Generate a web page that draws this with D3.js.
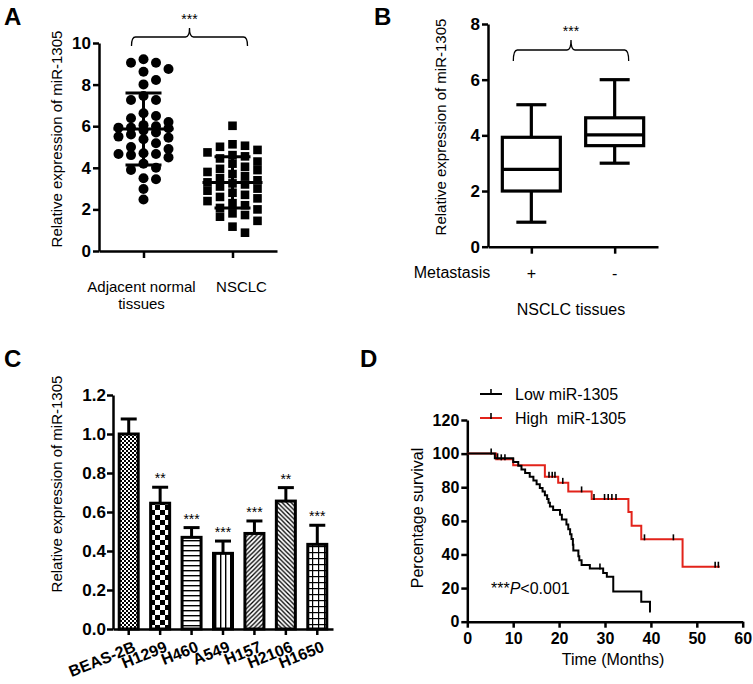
<!DOCTYPE html>
<html>
<head>
<meta charset="utf-8">
<script src="https://cdn.jsdelivr.net/npm/d3@7"></script>
<style>
body { margin: 0; background: #fff; }
text { font-family: Arial, "Liberation Sans", sans-serif; fill: #000; }
</style>
</head>
<body>
<svg id="fig" width="753" height="684"></svg>
<script>
////////////////////////////////////////////////////////////////////////////////
// Data

// A: scatter, miR-1305 in tissues
var groupsA = ["Adjacent normal tissues", "NSCLC"]
var normalVals = [9.22, 9.05, 9.05, 8.75, 8.62, 8.22, 8.01, 7.45, 7.26, 7.26,
                  6.62, 6.49, 6.38, 6.2, 6.05, 6.0, 5.93, 5.93, 5.9, 5.8,
                  5.7, 5.6, 5.5, 5.45, 5.37, 5.18, 5.0, 4.9, 4.7, 4.66,
                  4.66, 4.61, 4.5, 4.2, 4.0, 3.9, 3.5, 3.45, 2.98, 2.48]
var nsclcVals = [6.02, 5.13, 5.06, 5.01, 4.86, 4.74, 4.61, 4.55, 4.45, 4.3,
                 4.2, 4.05, 3.95, 3.89, 3.8, 3.7, 3.6, 3.5, 3.4, 3.3,
                 3.25, 3.2, 3.1, 3.0, 2.9, 2.8, 2.7, 2.6, 2.53, 2.4,
                 2.3, 2.2, 2.07, 2.0, 1.81, 1.73, 1.65, 1.45, 1.17, 0.88]
var yTicksA = [0, 2, 4, 6, 8, 10]

// B: box plot, metastasis + / -
var metaGroups = ["+", "-"]
var boxMin = [0.88, 3.0]
var boxQ1 = [2.0, 3.63]
var boxMedian = [2.78, 4.02]
var boxQ3 = [3.93, 4.63]
var boxMax = [5.1, 6.0]
var yTicksB = [0, 2, 4, 6, 8]

// C: cell lines
var cellLines = ["BEAS-2B", "H1299", "H460", "A549", "H157", "H2106", "H1650"]
var cellMeans = [1.0, 0.645, 0.47, 0.388, 0.49, 0.656, 0.434]
var cellErr = [0.077, 0.082, 0.05, 0.063, 0.064, 0.069, 0.098]
var cellStars = ["", "**", "***", "***", "***", "**", "***"]
var yTicksC = [0, 0.2, 0.4, 0.6, 0.8, 1.0, 1.2]

// D: Kaplan-Meier, [month, percent]
var lowSteps = [[0, 100], [6.0, 97.2], [10.0, 95.0], [11.1, 92.8], [11.8, 90.6],
  [12.6, 88.4], [13.6, 86.2], [14.4, 84.0], [15.1, 81.8], [15.8, 79.6],
  [16.4, 77.4], [16.9, 75.2], [17.4, 73.0], [17.7, 70.8], [18.0, 68.6],
  [18.7, 66.4], [20.2, 63.6], [20.6, 60.8], [21.6, 57.9], [22.0, 55.0],
  [22.4, 52.1], [22.7, 49.2], [23.0, 45.8], [23.1, 42.4], [24.2, 39.0],
  [24.4, 36.5], [24.9, 33.8], [26.7, 31.6], [29.6, 29.0], [30.4, 26.8],
  [31.8, 17.9], [37.9, 11.9], [39.8, 6.0], [40, 6.0]]
var lowCensor = [[5.2, 100], [6.6, 97.2], [28.9, 31.6]]
var highSteps = [[0, 100], [6.3, 96.6], [10.0, 93.1], [16.9, 86.2], [19.8, 82.6],
  [22.0, 77.5], [27.1, 73.0], [35.1, 65.2], [35.8, 57.1], [37.9, 49.0],
  [46.9, 32.7], [55, 32.7]]
var highCensor = [[7.4, 96.6], [8.2, 96.6], [17.8, 86.2], [18.5, 86.2], [19.1, 86.2],
  [20.8, 82.6], [24.9, 77.5], [27.6, 73.0], [29.9, 73.0], [30.7, 73.0],
  [31.5, 73.0], [32.4, 73.0], [38.6, 49.0], [44.9, 49.0], [54.0, 32.7], [54.7, 32.7]]
var xTicksD = [0, 10, 20, 30, 40, 50, 60]
var yTicksD = [0, 20, 40, 60, 80, 100, 120]

var red = "#e2231a"

////////////////////////////////////////////////////////////////////////////////
// Helpers

var svg = d3.select("#fig")

function styleAxis(g, size) {
  g.attr("font-size", null).attr("font-family", null)
  g.selectAll("path, line").attr("stroke", "#000").attr("stroke-width", 2.5)
  g.selectAll("text").attr("font-size", size).attr("font-weight", "bold")
}

function yTitle(x, y, label, size) {
  svg.append("text")
    .attr("transform", "translate(" + x + "," + y + ") rotate(-90)")
    .attr("text-anchor", "middle")
    .attr("font-size", size)
    .text(label)
}

function panelLabel(x, y, label) {
  svg.append("text").attr("x", x).attr("y", y)
    .attr("font-size", 24).attr("font-weight", "bold").text(label)
}

// curly-ish bracket with *** above
function bracket(x1, x2, yBottom, yTop, yPeak) {
  var m = (x1 + x2) / 2, r = 4
  var d = "M" + x1 + "," + yBottom +
    " Q" + x1 + "," + yTop + " " + (x1 + r) + "," + yTop +
    " L" + (m - r) + "," + yTop +
    " Q" + m + "," + yTop + " " + m + "," + yPeak +
    " Q" + m + "," + yTop + " " + (m + r) + "," + yTop +
    " L" + (x2 - r) + "," + yTop +
    " Q" + x2 + "," + yTop + " " + x2 + "," + yBottom
  svg.append("path").attr("d", d).attr("fill", "none")
    .attr("stroke", "#000").attr("stroke-width", 1.3)
  svg.append("text").attr("x", m).attr("y", yPeak - 4)
    .attr("text-anchor", "middle").attr("font-size", 14).text("***")
}

// column swarm limited to 5 columns: first free column, else the least crowded
var cols = [0, 1, -1, 2, -2]
function swarm(vals, y, cx, step, gap) {
  var placed = []
  return vals.slice().sort((a, b) => b - a).map(function(v) {
    var py = y(v), best = 0, bestClear = -1
    for (var k = 0; k < cols.length; k++) {
      var c = cols[k]
      var clear = d3.min(placed.filter(p => p.col == c), p => Math.abs(p.y - py))
      if (clear === undefined) clear = Infinity
      if (clear >= gap) { best = c; break }
      if (clear > bestClear) { bestClear = clear; best = c }
    }
    placed.push({col: best, y: py})
    return {x: cx + best * step, y: py}
  })
}

////////////////////////////////////////////////////////////////////////////////
// Panel A

panelLabel(4, 25, "A")

var xA = d3.scalePoint().domain(groupsA).range([99, 277]).padding(0.5)
var yA = d3.scaleLinear().domain([0, 10]).range([251, 43])

svg.append("g").attr("transform", "translate(99,0)")
  .call(d3.axisLeft(yA).tickValues(yTicksA).tickSize(6).tickPadding(2).tickSizeOuter(0))
  .call(g => styleAxis(g, 17))

svg.append("g").attr("transform", "translate(0,251)")
  .call(d3.axisBottom(xA).tickSize(7).tickSizeOuter(0).tickFormat(""))
  .call(g => styleAxis(g, 15))

svg.append("text").attr("x", xA(groupsA[0]) - 2).attr("y", 292)
  .attr("text-anchor", "middle").attr("font-size", 15).text("Adjacent normal")
svg.append("text").attr("x", xA(groupsA[0]) - 2).attr("y", 309)
  .attr("text-anchor", "middle").attr("font-size", 15).text("tissues")
svg.append("text").attr("x", xA(groupsA[1]) + 9).attr("y", 292)
  .attr("text-anchor", "middle").attr("font-size", 15).text("NSCLC")

yTitle(62, 139, "Relative expression of miR-1305", 15)

svg.append("g").selectAll("circle")
  .data(swarm(normalVals, yA, xA(groupsA[0]), 12.5, 10))
  .join("circle")
  .attr("cx", d => d.x).attr("cy", d => d.y).attr("r", 5)

svg.append("g").selectAll("rect")
  .data(swarm(nsclcVals, yA, xA(groupsA[1]), 12.5, 8.5))
  .join("rect")
  .attr("x", d => d.x - 4.3).attr("y", d => d.y - 4.3)
  .attr("width", 8.6).attr("height", 8.6)

;[normalVals, nsclcVals].forEach(function(vals, i) {
  var cx = xA(groupsA[i]), m = d3.mean(vals), sd = d3.deviation(vals)
  var g = svg.append("g").attr("stroke", "#000").attr("stroke-width", 3)
  g.append("line").attr("x1", cx).attr("x2", cx).attr("y1", yA(m + sd)).attr("y2", yA(m - sd))
  g.append("line").attr("x1", cx - 30).attr("x2", cx + 30).attr("y1", yA(m)).attr("y2", yA(m))
  ;[m + sd, m - sd].forEach(function(v) {
    g.append("line").attr("x1", cx - 18).attr("x2", cx + 18).attr("y1", yA(v)).attr("y2", yA(v))
  })
})

bracket(xA(groupsA[0]) - 12, xA(groupsA[1]) + 15, 46, 37, 28)

////////////////////////////////////////////////////////////////////////////////
// Panel B

panelLabel(374, 25, "B")

var xB = d3.scalePoint().domain(metaGroups).range([488, 658]).padding(0.52)
var yB = d3.scaleLinear().domain([0, 8]).range([246.7, 24])

svg.append("g").attr("transform", "translate(488,0)")
  .call(d3.axisLeft(yB).tickValues(yTicksB).tickSize(6).tickPadding(2).tickSizeOuter(0))
  .call(g => styleAxis(g, 17))

svg.append("g").attr("transform", "translate(0,246.7)")
  .call(d3.axisBottom(xB).tickSize(7).tickSizeOuter(0).tickFormat(""))
  .call(g => styleAxis(g, 15))

metaGroups.forEach(function(gr) {
  svg.append("text").attr("x", xB(gr)).attr("y", 279)
    .attr("text-anchor", "middle").attr("font-size", 16).text(gr)
})
svg.append("text").attr("x", 452).attr("y", 278)
  .attr("text-anchor", "middle").attr("font-size", 16).text("Metastasis")
svg.append("text").attr("x", 571).attr("y", 315)
  .attr("text-anchor", "middle").attr("font-size", 16).text("NSCLC tissues")

yTitle(446, 127, "Relative expression of miR-1305", 15)

metaGroups.forEach(function(gr, i) {
  var cx = xB(gr)
  var g = svg.append("g").attr("stroke", "#000").attr("stroke-width", 3.2).attr("fill", "none")
  g.append("line").attr("x1", cx).attr("x2", cx).attr("y1", yB(boxMax[i])).attr("y2", yB(boxQ3[i]))
  g.append("line").attr("x1", cx).attr("x2", cx).attr("y1", yB(boxQ1[i])).attr("y2", yB(boxMin[i]))
  g.append("line").attr("x1", cx - 15).attr("x2", cx + 15).attr("y1", yB(boxMax[i])).attr("y2", yB(boxMax[i]))
  g.append("line").attr("x1", cx - 15).attr("x2", cx + 15).attr("y1", yB(boxMin[i])).attr("y2", yB(boxMin[i]))
  g.append("rect").attr("x", cx - 29).attr("width", 58)
    .attr("y", yB(boxQ3[i])).attr("height", yB(boxQ1[i]) - yB(boxQ3[i]))
  g.append("line").attr("x1", cx - 29).attr("x2", cx + 29).attr("y1", yB(boxMedian[i])).attr("y2", yB(boxMedian[i]))
})

bracket(xB(metaGroups[0]) - 18, xB(metaGroups[1]) + 14, 61, 50, 40)

////////////////////////////////////////////////////////////////////////////////
// Panel C

panelLabel(4, 367, "C")

var defs = svg.append("defs")
function pattern(id, w, h, draw) {
  var p = defs.append("pattern").attr("id", id).attr("patternUnits", "userSpaceOnUse")
    .attr("width", w).attr("height", h)
  p.append("rect").attr("width", w).attr("height", h).attr("fill", "#fff")
  draw(p)
}
pattern("p0", 4, 4, p => {
  p.append("rect").attr("width", 2).attr("height", 2)
  p.append("rect").attr("x", 2).attr("y", 2).attr("width", 2).attr("height", 2)
})
pattern("p1", 10, 10, p => {
  p.append("rect").attr("width", 5).attr("height", 5)
  p.append("rect").attr("x", 5).attr("y", 5).attr("width", 5).attr("height", 5)
})
pattern("p2", 5, 5, p => p.append("rect").attr("y", 0).attr("width", 5).attr("height", 1.4))
pattern("p3", 5, 5, p => p.append("rect").attr("x", 0).attr("width", 1.4).attr("height", 5))
pattern("p4", 4.5, 4.5, p => p.append("path").attr("d", "M-1,5.5 L5.5,-1 M-1,1 L1,-1 M3.5,5.5 L5.5,3.5")
  .attr("stroke", "#000").attr("stroke-width", 1.3))
pattern("p5", 4.5, 4.5, p => p.append("path").attr("d", "M-1,-1 L5.5,5.5 M3.5,-1 L5.5,1 M-1,3.5 L1,5.5")
  .attr("stroke", "#000").attr("stroke-width", 1.3))
pattern("p6", 6, 6, p => {
  p.append("rect").attr("width", 6).attr("height", 1.2)
  p.append("rect").attr("width", 1.2).attr("height", 6)
})

var xC = d3.scaleBand().domain(cellLines).range([113, 333]).paddingInner(0.3).paddingOuter(0.15)
var yC = d3.scaleLinear().domain([0, 1.2]).range([629, 395])

svg.append("g").attr("transform", "translate(113,0)")
  .call(d3.axisLeft(yC).tickValues(yTicksC).tickFormat(d3.format(".1f"))
    .tickSize(6).tickPadding(1).tickSizeOuter(0))
  .call(g => styleAxis(g, 17))

svg.append("g").attr("transform", "translate(0,629)")
  .call(d3.axisBottom(xC).tickSize(6).tickSizeOuter(0))
  .call(g => styleAxis(g, 16))
  .selectAll("text")
  .attr("text-anchor", "end")
  .attr("dy", null)
  .attr("transform", "translate(8,22) rotate(-22)")
  .attr("y", 0)

yTitle(62, 484, "Relative expression of miR-1305", 15)

var bw = xC.bandwidth()
var barG = svg.append("g")
cellLines.forEach(function(c, i) {
  var x = xC(c), cx = x + bw / 2
  var top = yC(cellMeans[i] + cellErr[i])
  barG.append("line").attr("x1", cx).attr("x2", cx).attr("y1", yC(cellMeans[i])).attr("y2", top)
    .attr("stroke", "#000").attr("stroke-width", 3)
  barG.append("line").attr("x1", cx - 8).attr("x2", cx + 8).attr("y1", top).attr("y2", top)
    .attr("stroke", "#000").attr("stroke-width", 3)
  barG.append("rect").attr("x", x + 1.5).attr("width", bw - 3)
    .attr("y", yC(cellMeans[i])).attr("height", yC(0) - yC(cellMeans[i]))
    .attr("fill", "url(#p" + i + ")").attr("stroke", "#000").attr("stroke-width", 3)
  if (cellStars[i])
    barG.append("text").attr("x", cx).attr("y", top - 4)
      .attr("text-anchor", "middle").attr("font-size", 14).text(cellStars[i])
})

////////////////////////////////////////////////////////////////////////////////
// Panel D

panelLabel(360, 367, "D")

var xD = d3.scaleLinear().domain([0, 60]).range([467.3, 742.7])
var yD = d3.scaleLinear().domain([0, 120]).range([621.7, 420])

svg.append("g").attr("transform", "translate(467.3,0)")
  .call(d3.axisLeft(yD).tickValues(yTicksD).tickSize(6).tickPadding(2).tickSizeOuter(0))
  .call(g => styleAxis(g, 16))

svg.append("g").attr("transform", "translate(0,621.7)")
  .call(d3.axisBottom(xD).tickValues(xTicksD).tickSize(6).tickPadding(5).tickSizeOuter(0))
  .call(g => styleAxis(g, 16))

yTitle(423, 518, "Percentage survival", 16)
svg.append("text").attr("x", 613).attr("y", 665)
  .attr("text-anchor", "middle").attr("font-size", 16).text("Time (Months)")

var km = d3.line().x(d => xD(d[0])).y(d => yD(d[1])).curve(d3.curveStepAfter)

function drawKM(steps, censor, color) {
  svg.append("path").attr("d", km(steps)).attr("fill", "none")
    .attr("stroke", color).attr("stroke-width", 2)
  svg.append("g").selectAll("line").data(censor).join("line")
    .attr("x1", d => xD(d[0])).attr("x2", d => xD(d[0]))
    .attr("y1", d => yD(d[1]) - 5).attr("y2", d => yD(d[1]) + 1)
    .attr("stroke", "#000").attr("stroke-width", 1.6)
}
drawKM(highSteps, highCensor, red)
drawKM(lowSteps, lowCensor, "#000")

// legend
;[["Low miR-1305", "#000", 394], ["High  miR-1305", red, 418]].forEach(function(l) {
  svg.append("line").attr("x1", 480).attr("x2", 502).attr("y1", l[2]).attr("y2", l[2])
    .attr("stroke", l[1]).attr("stroke-width", 2)
  svg.append("line").attr("x1", 491).attr("x2", 491).attr("y1", l[2] - 5).attr("y2", l[2] + 1)
    .attr("stroke", "#000").attr("stroke-width", 1.6)
  svg.append("text").attr("x", 515).attr("y", l[2] + 6).attr("font-size", 16)
    .style("white-space", "pre").text(l[0])
})

var pt = svg.append("text").attr("x", 491).attr("y", 594).attr("font-size", 16)
pt.append("tspan").text("***")
pt.append("tspan").attr("font-style", "italic").text("P")
pt.append("tspan").text("<0.001")
</script>
</body>
</html>
